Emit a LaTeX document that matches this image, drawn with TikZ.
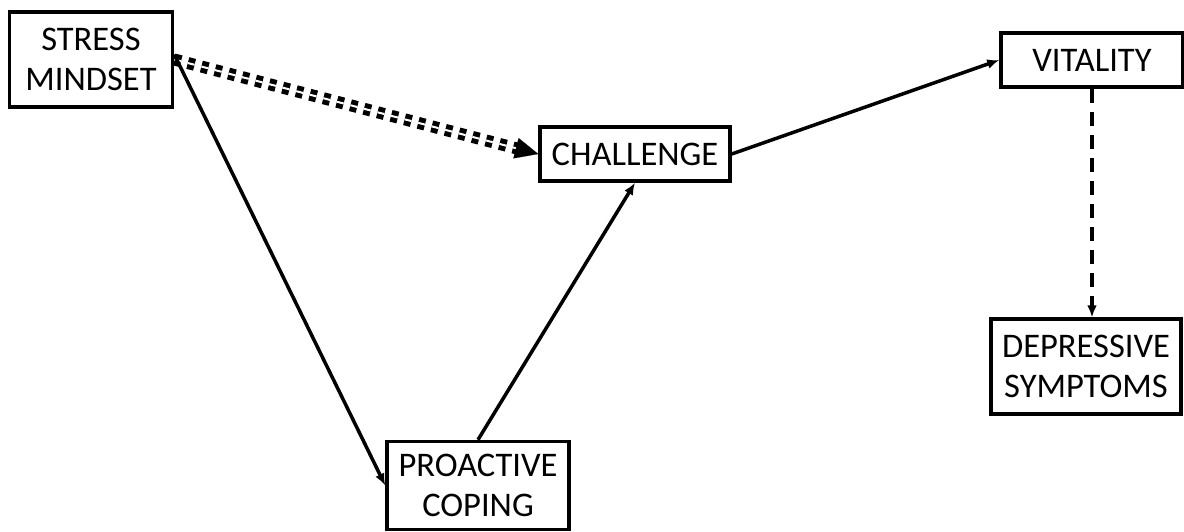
\documentclass[tikz,border=0pt]{standalone}
\usepackage{fontspec}
\setmainfont{Carlito}
\usetikzlibrary{arrows.meta,calc}

\begin{document}
\begin{tikzpicture}[
  x=1pt,
  y=-1pt,
  >={Latex[length=12pt,width=10pt]},
  factor/.style={draw,line width=3.5pt,align=center,inner sep=0pt,
    font=\fontsize{34.5}{40}\selectfont},
  flow/.style={->,line width=3.5pt},
  link/.style={->,line width=3.5pt,dash pattern=on 14pt off 9pt},
  dbllink/.style={line width=5pt,double,double distance=2pt,
    dash pattern=on 7pt off 7pt},
  dbltip/.style={-{Triangle[length=23pt,width=21pt]},line width=0.1pt}
]
\useasboundingbox (0,0) rectangle (1184,531);

\node[factor,minimum width=163pt,minimum height=95pt] (stress) at (91,59.5)
  {STRESS\\MINDSET};
\node[factor,minimum width=190pt,minimum height=54pt] (challenge) at (635,154)
  {CHALLENGE};
\node[factor,minimum width=182pt,minimum height=54pt] (vitality) at (1092,60)
  {VITALITY};
\node[factor,minimum width=190pt,minimum height=95pt] (depressive) at (1086,366.5)
  {DEPRESSIVE\\SYMPTOMS};
\node[factor,minimum width=182pt,minimum height=88pt] (proactive) at (478,485.5)
  {PROACTIVE\\COPING};

% direct path
\coordinate (dblend) at ($(challenge.west)!22pt!(stress.east)$);
\draw[dbllink] (stress.east) -- (dblend);
\draw[dbltip] (dblend) -- (challenge.west);

% indirect path
\draw[flow] ([yshift=5pt]stress.east) -- (proactive.west);
\draw[flow] (proactive.north) -- (challenge.south);
\draw[flow] (challenge.east) -- (vitality.west);
\draw[link] (vitality.south) -- (vitality.south |- depressive.north);

\end{tikzpicture}
\end{document}
